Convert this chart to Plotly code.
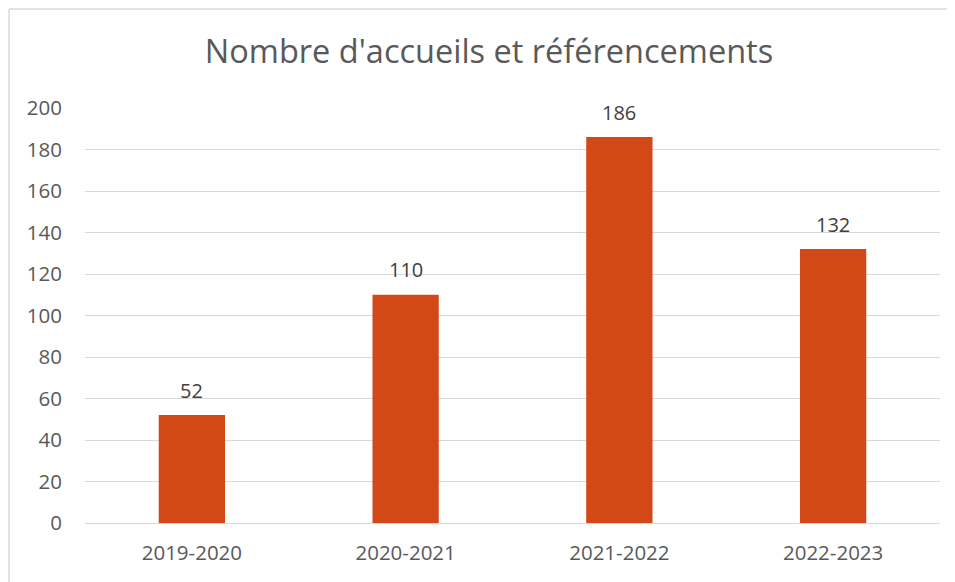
import plotly.graph_objects as go

# Data
saisons = ["2019-2020", "2020-2021", "2021-2022", "2022-2023"]
accueils = [52, 110, 186, 132]
y_ticks = [0, 20, 40, 60, 80, 100, 120, 140, 160, 180, 200]

FONT = "Open Sans, Liberation Sans, sans-serif"

# the page body adds an 8px offset, so positions below are shifted by -8
OFF = 8
W, H = 955, 582
L, R_EDGE, T, B_EDGE = 85 - OFF, 940 - OFF, 108 - OFF, 523 - OFF
PW, PH = R_EDGE - L, B_EDGE - T

fig = go.Figure()
fig.add_trace(go.Bar(
    x=saisons,
    y=accueils,
    marker=dict(color="#D34817", line=dict(width=0)),
))

# value labels above the bars
for s, v in zip(saisons, accueils):
    fig.add_annotation(
        x=s, y=v, text=str(v), showarrow=False,
        yanchor="middle", yshift=25,
        font=dict(size=20, color="#404040", family=FONT),
    )

fig.update_layout(
    width=W,
    height=H,
    margin=dict(l=L, r=W - R_EDGE, t=T, b=H - B_EDGE),
    paper_bgcolor="white",
    plot_bgcolor="white",
    bargap=0.69,
    showlegend=False,
    font=dict(family=FONT, color="#595959", size=20),
    title=dict(
        text="Nombre d'accueils et référencements",
        font=dict(size=32.5, color="#595959", family=FONT),
        x=(489 - OFF) / W, xanchor="center",
        y=1 - (52 - OFF) / H, yanchor="middle", yref="container",
    ),
)

fig.update_yaxes(
    range=[0, 200],
    tickvals=y_ticks,
    showgrid=True,
    gridcolor="#D9D9D9",
    gridwidth=1,
    zeroline=False,
    showline=False,
    ticks="",
    ticklabelstandoff=22,
    tickfont=dict(size=20.5, color="#595959"),
)
fig.update_xaxes(
    showline=True,
    linecolor="#D9D9D9",
    linewidth=1,
    ticks="",
    ticklabelstandoff=11,
    tickfont=dict(size=20.5, color="#595959"),
)

# chart border: only the top and left edges are in view
bx0, bx1 = (9 - 85) / PW, (980 - 85) / PW
by0, by1 = (523 - 600) / PH, (523 - 9) / PH
border = dict(color="#D9D9D9", width=1.5)
fig.add_shape(type="line", xref="paper", yref="paper",
              x0=bx0, x1=bx1, y0=by1, y1=by1, line=border, layer="below")
fig.add_shape(type="line", xref="paper", yref="paper",
              x0=bx0, x1=bx0, y0=by0, y1=by1, line=border, layer="below")

fig.write_html("out.html")
